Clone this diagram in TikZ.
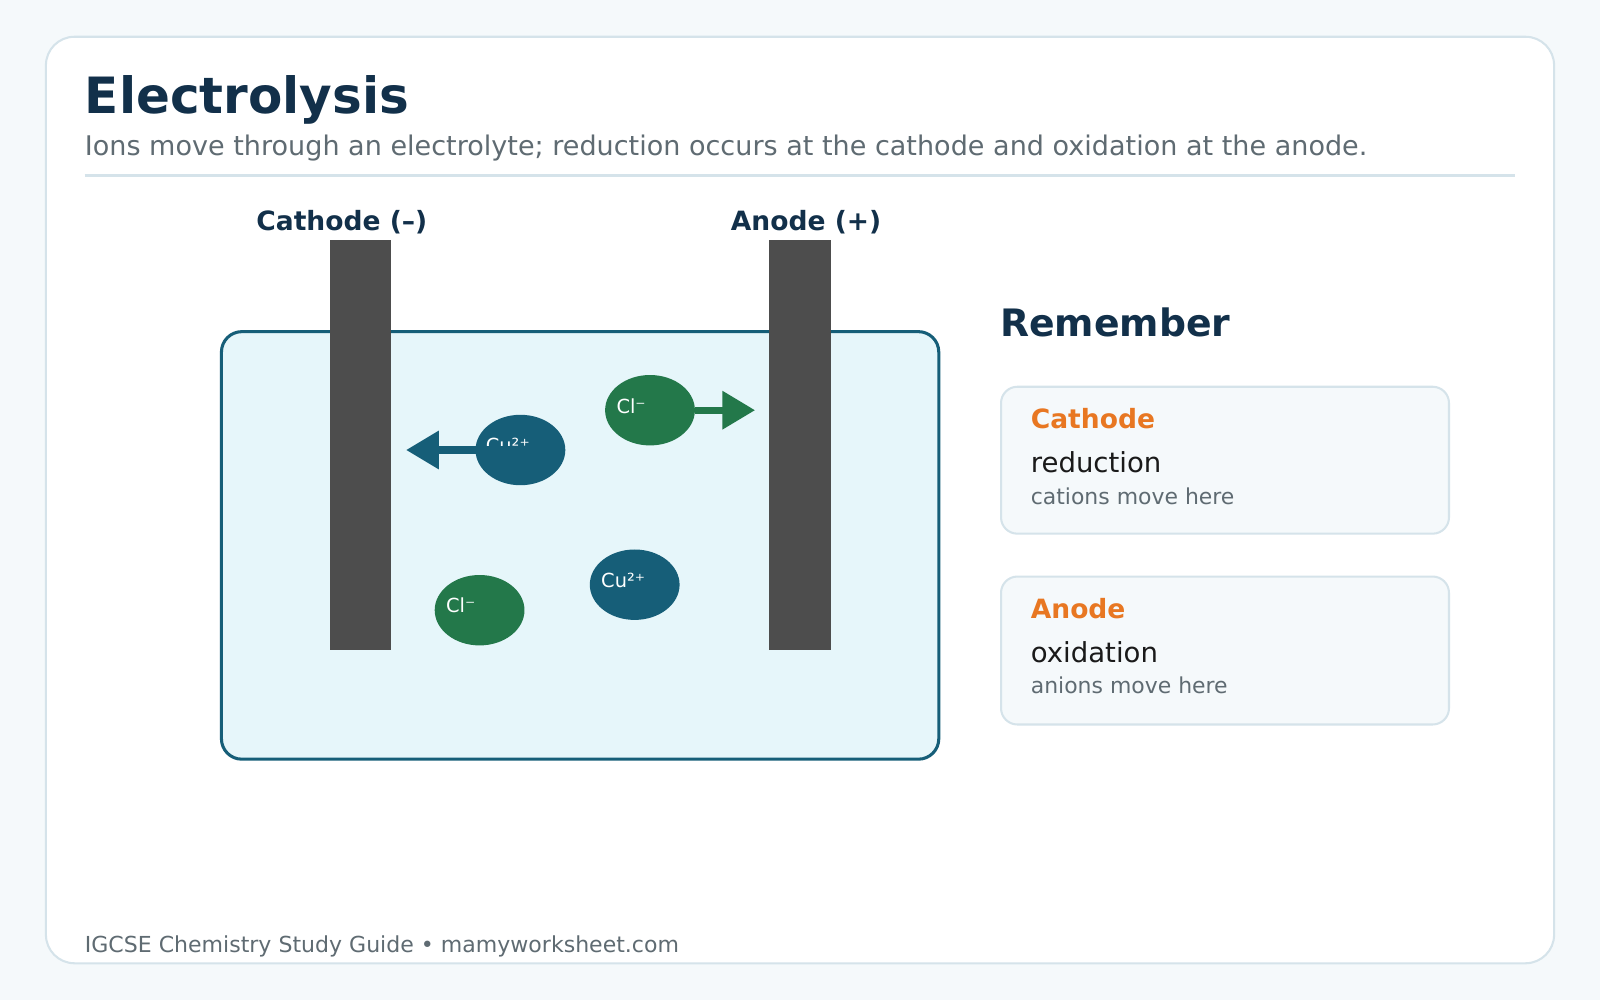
\documentclass[tikz,border=0pt]{standalone}
\usepackage{fontspec}
\setmainfont{DejaVu Sans}
\usetikzlibrary{arrows.meta,shapes.geometric}
\definecolor{bg}{HTML}{F5F9FB}
\definecolor{bord}{HTML}{D5E3EA}
\definecolor{navy}{HTML}{12304A}
\definecolor{gray}{HTML}{5F6B72}
\definecolor{teal}{HTML}{165E78}
\definecolor{tank}{HTML}{E6F6FA}
\definecolor{grn}{HTML}{23784A}
\definecolor{elec}{HTML}{4D4D4D}
\definecolor{org}{HTML}{E87722}
\definecolor{ink}{HTML}{1A1A1A}
\newcommand{\fs}[1]{\fontsize{#1}{#1}\selectfont}
\tikzset{
 txt/.style={anchor=base west, inner sep=0pt},
 ion/.style={ellipse, minimum width=88pt, minimum height=69pt, inner sep=0pt},
 ionlbl/.style={txt, text=white, font=\fs{19}},
 box/.style={draw=bord, line width=2pt, fill=bg, rounded corners=16pt},
 el/.style={fill=elec},
}
\begin{document}
\begin{tikzpicture}[x=1pt,y=-1pt]
\useasboundingbox (0,0) rectangle (1568,980);
\fill[bg] (0,0) rectangle (1568,980);
\draw[bord, line width=2pt, fill=white, rounded corners=28pt] (45,36) rectangle (1523,944);
\node[txt, text=navy, font=\bfseries\fs{49}] (title) at (83,111) {Electrolysis};
\node[txt, text=gray, font=\fs{26.5}] (sub) at (83,152) {Ions move through an electrolyte; reduction occurs at the cathode and oxidation at the anode.};
\draw[bord, line width=2pt] (83,172) -- (1485,172);
% tank
\draw[teal, line width=3pt, fill=tank, rounded corners=20pt] (217,325) rectangle (920,744);
\fill[el] (323,235) rectangle (383,637);
\fill[el] (754,235) rectangle (814,637);
\node[anchor=base, inner sep=0pt, text=navy, font=\bfseries\fs{26}] (cl) at (335,226) {Cathode (–)};
\node[anchor=base, inner sep=0pt, text=navy, font=\bfseries\fs{26}] (al) at (790,226) {Anode (+)};
% ions
\node[ion, fill=teal] (cu1) at (510,441) {};
\node[ionlbl] (cu1t) at (476,443) {Cu²⁺};
\coordinate (c1) at (398,441);
\draw[teal, line width=7pt, -{Triangle[length=32pt,width=36pt]}] (cu1.center) -- (c1);
\node[ion, fill=grn] (cl1) at (637,402) {};
\node[ionlbl] (cl1t) at (604,405) {Cl⁻};
\coordinate (a1) at (740,402);
\draw[grn, line width=7pt, -{Triangle[length=32pt,width=36pt]}] (cl1.east) -- (a1);
\node[ion, fill=grn] (cl2) at (470,598) {};
\node[ionlbl] (cl2t) at (437,600) {Cl⁻};
\node[ion, fill=teal] (cu2) at (622,573) {};
\node[ionlbl] (cu2t) at (589,576) {Cu²⁺};
% remember
\node[txt, text=navy, font=\bfseries\fs{37}] (rem) at (980,330) {Remember};
\draw[box] (981,379) rectangle (1420,523);
\node[txt, text=org, font=\bfseries\fs{26}] (b1a) at (1010,420) {Cathode};
\node[txt, text=ink, font=\fs{27}] (b1b) at (1010,463) {reduction};
\node[txt, text=gray, font=\fs{21.5}] (b1c) at (1010,494) {cations move here};
\draw[box] (981,565) rectangle (1420,710);
\node[txt, text=org, font=\bfseries\fs{26}] (b2a) at (1010,606) {Anode};
\node[txt, text=ink, font=\fs{27}] (b2b) at (1010,649) {oxidation};
\node[txt, text=gray, font=\fs{21.5}] (b2c) at (1010,680) {anions move here};
\node[txt, text=gray, font=\fs{21.6}] (foot) at (83,933) {IGCSE Chemistry Study Guide • mamyworksheet.com};
\end{tikzpicture}
\end{document}
